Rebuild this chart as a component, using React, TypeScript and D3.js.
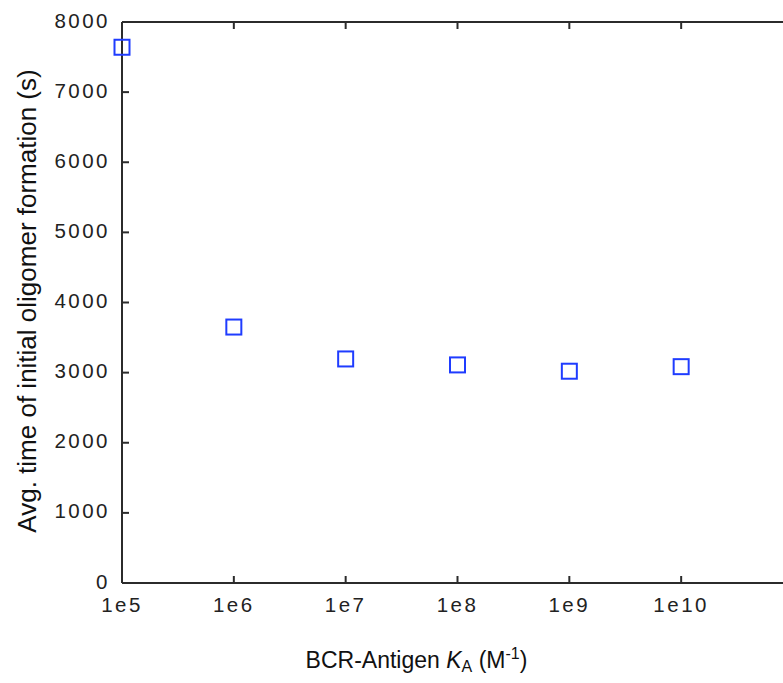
import React from "react";
import * as d3 from "d3";

const affinities = [1e5, 1e6, 1e7, 1e8, 1e9, 1e10];
const avgTimes = [7640, 3650, 3195, 3110, 3020, 3085];
const xTickValues = [1e5, 1e6, 1e7, 1e8, 1e9, 1e10, 1e11];
const xTickLabels = ["1e5", "1e6", "1e7", "1e8", "1e9", "1e10", ""];
const yTickValues = [0, 1000, 2000, 3000, 4000, 5000, 6000, 7000, 8000];

const W = 783;
const H = 683;
const left = 122;
const top = 22;
const bottom = 583;
const right = 793;

export default function App() {
  const x = d3.scaleLog().domain([1e5, 1e11]).range([left, right]);
  const y = d3.scaleLinear().domain([0, 8000]).range([bottom, top]);
  const axisColor = "#2b2b2b";
  const font = "'Liberation Sans', Arial, Helvetica, sans-serif";
  const tickLen = 7;
  const ms = 15;

  return (
    <svg
      width={W}
      height={H}
      style={{ position: "absolute", left: 0, top: 0, background: "#fff" }}
      fontFamily={font}
    >
      <rect x={0} y={0} width={W} height={H} fill="#fff" />
      {/* axes box */}
      <line x1={left} y1={bottom} x2={right} y2={bottom} stroke={axisColor} strokeWidth={2} />
      <line x1={left} y1={top} x2={right} y2={top} stroke={axisColor} strokeWidth={2} />
      <line x1={left} y1={top} x2={left} y2={bottom} stroke={axisColor} strokeWidth={2} />
      <line x1={right} y1={top} x2={right} y2={bottom} stroke={axisColor} strokeWidth={2} />

      {/* x ticks */}
      {xTickValues.map((v, i) => (
        <g key={"xt" + i}>
          <line x1={x(v)} x2={x(v)} y1={bottom} y2={bottom - tickLen} stroke={axisColor} strokeWidth={2} />
          <line x1={x(v)} x2={x(v)} y1={top} y2={top + tickLen} stroke={axisColor} strokeWidth={2} />
          {xTickLabels[i] ? (
            <text
              x={x(v)}
              y={612}
              textAnchor="middle"
              fontSize={20.5}
              letterSpacing={2.5}
              fill="#222"
            >
              {xTickLabels[i]}
            </text>
          ) : null}
        </g>
      ))}

      {/* y ticks */}
      {yTickValues.map((v, i) => (
        <g key={"yt" + i}>
          <line x1={left} x2={left + tickLen} y1={y(v)} y2={y(v)} stroke={axisColor} strokeWidth={2} />
          <line x1={right} x2={right - tickLen} y1={y(v)} y2={y(v)} stroke={axisColor} strokeWidth={2} />
          <text
            x={110}
            y={y(v) + 5.5}
            textAnchor="end"
            fontSize={20.5}
            letterSpacing={2.5}
            fill="#222"
          >
            {String(v)}
          </text>
        </g>
      ))}

      {/* markers */}
      {affinities.map((a, i) => (
        <rect
          key={"m" + i}
          x={x(a) - ms / 2}
          y={y(avgTimes[i]) - ms / 2}
          width={ms}
          height={ms}
          fill="none"
          stroke="#1f3cff"
          strokeWidth={2}
        />
      ))}

      {/* x label */}
      <text x={416.5} y={668} textAnchor="middle" fontSize={23} fill="#111">
        <tspan>BCR-Antigen </tspan>
        <tspan fontStyle="italic">K</tspan>
        <tspan fontSize={16} dy={4}>A</tspan>
        <tspan dy={-4}> (M</tspan>
        <tspan fontSize={16} dy={-9}>-1</tspan>
        <tspan dy={9}>)</tspan>
      </text>

      {/* y label */}
      <text
        transform={`translate(36, 301) rotate(-90)`}
        textAnchor="middle"
        fontSize={26}
        fill="#111"
      >
        Avg. time of initial oligomer formation (s)
      </text>
    </svg>
  );
}
